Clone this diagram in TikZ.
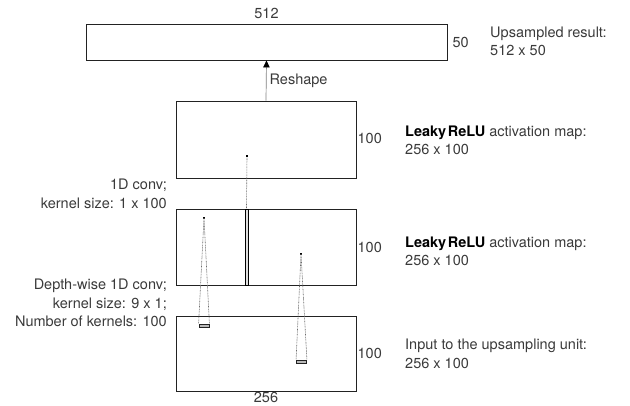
\documentclass[tikz,border=0pt]{standalone}
\usepackage{fontspec}
\setmainfont{TeX Gyre Heros}
\usetikzlibrary{arrows.meta}
\definecolor{txt}{HTML}{3A3A3A}
\definecolor{edge}{HTML}{222222}
\tikzset{
  mapbox/.style={draw=edge, line width=0.9pt, minimum width=180pt, inner sep=0pt},
  lbl/.style={text=txt, font=\fontsize{14.5}{18.5}\selectfont, inner sep=0pt},
  dotpt/.style={fill=black, minimum width=2.8pt, minimum height=2.8pt, inner sep=0pt},
  kern/.style={draw=edge, fill=gray!55, line width=0.8pt, minimum width=10pt, minimum height=3.2pt, inner sep=0pt},
  rf/.style={gray!85!black, line width=0.6pt, dash pattern=on 0.9pt off 0.7pt},
  upline/.style={gray, line width=0.7pt, -{Triangle[length=7pt,width=6.5pt,black]}}
}
\begin{document}
\begin{tikzpicture}[x=1pt,y=-1pt]
\useasboundingbox (0,0) rectangle (630,405);
% boxes
\node[mapbox, minimum width=361pt, minimum height=36pt] (top) at (266.5,42) {};
\node[mapbox, minimum height=77pt] (act2) at (266,139.5) {};
\node[mapbox, minimum height=76pt] (act1) at (266,247) {};
\node[mapbox, minimum height=75pt] (inp) at (266,353.5) {};
% 1x100 kernel bar
\node[draw=black, fill=gray!25, line width=0.8pt, minimum width=3pt, minimum height=76pt, inner sep=0pt] (bar) at (246.5,247) {};
% points
\node[dotpt] (p1) at (247,156) {};
\node[dotpt] (p2) at (204,218) {};
\node[dotpt] (p3) at (301,254) {};
% depth-wise kernels
\node[kern] (k1) at (204,325.5) {};
\node[kern] (k2) at (301.5,361.5) {};
% receptive fields
\draw[rf] (p1) -- (bar.north);
\draw[rf] (p2.center) -- (k1.north west);
\draw[rf] (p2.center) -- (k1.north east);
\draw[rf] (p3.center) -- (k2.north west);
\draw[rf] (p3.center) -- (k2.north east);
% reshape arrow
\draw[upline] (act2.north) -- (top.south) node[lbl, pos=0.5, anchor=west, xshift=3pt] (resh) {Reshape};
% dimension labels
\node[lbl, anchor=base] (w512) at ([yshift=5pt]top.north) {512};
\node[lbl, anchor=west] (h50) at ([xshift=5pt]top.east) {50};
\node[lbl, anchor=west] (h100a) at ([xshift=1pt,yshift=1.5pt]act2.east) {100};
\node[lbl, anchor=west] (h100b) at ([xshift=1pt]act1.east) {100};
\node[lbl, anchor=west] (h100c) at ([xshift=1pt]inp.east) {100};
\node[lbl, anchor=base] (w256) at ([yshift=-11.5pt]inp.south) {256};
% left annotations
\node[lbl, anchor=east, align=right] (conv1) at (167,194) {1D conv;\\kernel size: 1 x 100};
\node[lbl, anchor=east, align=right] (dconv) at (167,303) {Depth-wise 1D conv;\\kernel size: 9 x 1;\\Number of kernels: 100};
% right annotations
\node[lbl, anchor=west, align=left] (res) at (490,41.5) {Upsampled result:\\512 x 50};
\node[lbl, anchor=west, align=left] (lr2) at (405,140.5) {{\color{black}\bfseries\spaceskip=1.5pt Leaky ReLU} activation map:\\256 x 100};
\node[lbl, anchor=west, align=left] (lr1) at (405,251.5) {{\color{black}\bfseries\spaceskip=1.5pt Leaky ReLU} activation map:\\256 x 100};
\node[lbl, anchor=west, align=left] (in) at (405,354) {Input to the upsampling unit:\\256 x 100};
\end{tikzpicture}
\end{document}
